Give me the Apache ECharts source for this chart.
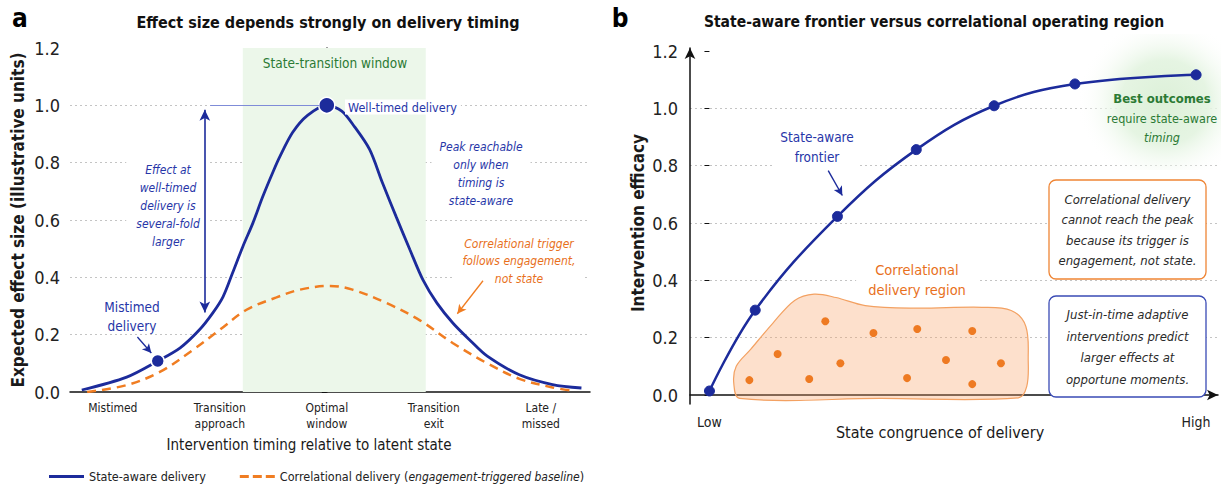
<!DOCTYPE html>
<html>
<head>
<meta charset="utf-8">
<script src="https://cdn.jsdelivr.net/npm/echarts/dist/echarts.min.js"></script>
<style>
  html, body { margin: 0; padding: 0; background: #fff; }
  #main { width: 1221px; height: 485px; }
</style>
</head>
<body>
<div id="main"></div>
<script>
// panel a: timing categories on a continuous timing axis
const timingTicks = [-2, -1, 0, 1, 2]
const timingLabels = ['Mistimed', 'Transition\napproach', 'Optimal\nwindow', 'Transition\nexit', 'Late /\nmissed']
const windowRange = [-0.785, 0.925]

const stateAware = [
  [-2.29, 0.007], [-1.87, 0.052], [-1.58, 0.108], [-1.37, 0.154], [-1.19, 0.217],
  [-1.065, 0.276], [-0.97, 0.332], [-0.88, 0.416], [-0.785, 0.507], [-0.69, 0.59],
  [-0.6, 0.68], [-0.5, 0.77], [-0.44, 0.82], [-0.32, 0.905], [-0.18, 0.965],
  [0, 1.0], [0.14, 0.98], [0.26, 0.925], [0.4, 0.846], [0.52, 0.73],
  [0.65, 0.61], [0.776, 0.497], [0.9, 0.39], [1.03, 0.31], [1.18, 0.24],
  [1.34, 0.18], [1.5, 0.125], [1.8, 0.06], [2.11, 0.026], [2.38, 0.014]
]
const correlational = [
  [-2.24, 0.0], [-1.87, 0.024], [-1.56, 0.07], [-1.25, 0.147], [-1.0, 0.217],
  [-0.75, 0.287], [-0.47, 0.33], [-0.25, 0.357], [0.03, 0.37], [0.24, 0.357],
  [0.56, 0.31], [0.87, 0.25], [1.18, 0.17], [1.5, 0.1], [1.8, 0.046],
  [2.11, 0.016], [2.32, 0.003]
]
const highlightPts = [[0, 1.0], [-1.58, 0.108]]

// panel b: frontier and correlational cloud
const frontierX = [0, 0.94, 2.63, 4.25, 5.85, 7.51, 10.0]
const frontierY = [0.014, 0.296, 0.623, 0.856, 1.009, 1.085, 1.117]
const corrX = [0.82, 1.4, 2.05, 2.38, 2.69, 3.37, 4.06, 4.27, 4.86, 5.4, 5.4, 5.99]
const corrY = [0.052, 0.143, 0.056, 0.257, 0.111, 0.216, 0.059, 0.23, 0.122, 0.223, 0.038, 0.111]
const blobX = [0.62, 0.5, 0.55, 0.85, 1.3, 1.75, 2.15, 2.6, 3.2, 4.2, 5.6, 6.2, 6.5, 6.55, 6.52, 6.35, 3.5]
const blobY = [-0.012, 0.04, 0.1, 0.16, 0.25, 0.33, 0.352, 0.34, 0.312, 0.303, 0.306, 0.295, 0.24, 0.12, 0.03, -0.01, -0.012]

const FONT = '"DejaVu Sans Condensed", Roboto, sans-serif'
const BLUE = '#1c2b9b'
const BLUE_TXT = '#2736a8'
const ORANGE = '#f07d22'
const ORANGE_TXT = '#e8701c'
const GREEN = '#2b7a34'
const INK = '#1a1a1a'

function txt (x, y, text, style, z) {
  return {
    type: 'text', x: x, y: y, z: z || 5, silent: true,
    style: Object.assign({
      text: text, fontFamily: FONT, fontSize: 14, fill: INK,
      align: 'center', verticalAlign: 'middle'
    }, style)
  }
}

const chart = echarts.init(document.getElementById('main'), null, { renderer: 'svg' })

const gridLine = { show: true, lineStyle: { type: [2, 3], color: '#c4c4c4', width: 1 } }

const option = {
  animation: false,
  backgroundColor: '#fff',
  textStyle: { fontFamily: FONT },
  grid: [
    { left: 70, width: 520, top: 48, height: 344, outerBoundsMode: 'none' },
    { left: 690, width: 528, top: 51, height: 344, outerBoundsMode: 'none' },
    { left: 690, width: 528, top: 48, height: 356, outerBoundsMode: 'none' }
  ],
  xAxis: [
    {
      gridIndex: 0, type: 'value', min: -2.4, max: 2.46,
      axisLine: { show: true, lineStyle: { color: '#111', width: 1.5 } },
      axisTick: { show: false },
      splitLine: { show: false },
      axisLabel: {
        customValues: timingTicks, margin: 8, fontSize: 12, lineHeight: 16, color: '#222', fontFamily: FONT,
        formatter: v => timingLabels[timingTicks.indexOf(v)] || ''
      },
      name: 'Intervention timing relative to latent state', nameLocation: 'middle', nameGap: 45,
      nameTextStyle: { fontSize: 15, color: INK, fontFamily: FONT, padding: [0, 42, 0, 0] }
    },
    {
      gridIndex: 1, type: 'value', min: -0.4, max: 10.45, offset: 9,
      axisLine: { show: true, symbol: ['none', 'arrow'], symbolSize: [8, 11], lineStyle: { color: '#111', width: 1.5 } },
      axisTick: { show: false },
      splitLine: { show: false },
      axisLabel: {
        customValues: [0, 10], margin: 11, fontSize: 14, color: '#222', fontFamily: FONT,
        formatter: v => (v === 0 ? 'Low' : 'High')
      },
      name: 'State congruence of delivery', nameLocation: 'middle', nameGap: 20, nameMoveOverlap: false,
      nameTextStyle: { fontSize: 16, color: INK, fontFamily: FONT, padding: [0, 28, 0, 0] }
    },
    { gridIndex: 2, type: 'value', min: 0, max: 1, show: false }
  ],
  yAxis: [
    {
      gridIndex: 0, type: 'value', min: 0, max: 1.2, interval: 0.2,
      axisLine: { show: true, lineStyle: { color: '#111', width: 1.5 } },
      axisTick: { show: true, length: 5, lineStyle: { color: '#111' } },
      axisLabel: { fontSize: 18, color: '#222', margin: 10, fontFamily: FONT, formatter: v => v.toFixed(1) },
      splitLine: Object.assign({ showMaxLine: false, showMinLine: false }, gridLine),
      name: 'Expected effect size (illustrative units)', nameLocation: 'middle', nameGap: 44,
      nameTextStyle: { fontSize: 17, fontWeight: 'bold', color: INK, fontFamily: FONT }
    },
    {
      gridIndex: 1, type: 'value', min: 0, max: 1.2, interval: 0.2,
      axisLine: { show: false },
      axisTick: { show: true, length: 5, lineStyle: { color: '#111' } },
      axisLabel: { fontSize: 18, color: '#222', margin: 12, fontFamily: FONT, formatter: v => v.toFixed(1) },
      splitLine: Object.assign({ showMaxLine: false, showMinLine: false }, gridLine),
      name: 'Intervention efficacy', nameLocation: 'middle', nameGap: 44,
      nameTextStyle: { fontSize: 17, fontWeight: 'bold', color: INK, fontFamily: FONT }
    },
    {
      gridIndex: 2, type: 'value', min: 0, max: 1,
      axisLine: { show: true, symbol: ['none', 'arrow'], symbolSize: [8, 11], lineStyle: { color: '#111', width: 1.5 } },
      axisTick: { show: false }, axisLabel: { show: false }, splitLine: { show: false }
    }
  ],
  legend: {
    left: 44, top: 465, itemWidth: 35, itemHeight: 3, itemGap: 34, selectedMode: false,
    data: [
      { name: 'State-aware delivery', icon: 'rect' },
      { name: 'Correlational delivery', icon: 'path://M0,0h9v3h-9z M13,0h9v3h-9z M26,0h9v3h-9z' }
    ],
    textStyle: { fontSize: 12.5, color: '#222', fontFamily: FONT, rich: { i: { fontStyle: 'italic', fontSize: 12, color: '#222', fontFamily: FONT } } },
    formatter: name => (name === 'Correlational delivery' ? name + ' ({i|engagement-triggered baseline})' : name)
  },
  series: [
    {
      // state-transition window band
      type: 'line', xAxisIndex: 0, yAxisIndex: 0, z: 1, silent: true,
      data: [[0, 0]], symbol: 'none', lineStyle: { opacity: 0 },
      markArea: {
        silent: true,
        itemStyle: { color: '#ecf7ea' },
        data: [[{ xAxis: windowRange[0], yAxis: 0 }, { xAxis: windowRange[1], yAxis: 1.2 }]]
      }
    },
    {
      name: 'State-aware delivery', type: 'line', xAxisIndex: 0, yAxisIndex: 0, z: 3,
      data: stateAware, smooth: 0.3, symbol: 'none',
      lineStyle: { color: BLUE, width: 2.8 }, itemStyle: { color: BLUE },
      markLine: {
        silent: true, symbol: ['none', 'arrow'], symbolSize: [8, 11], label: { show: false },
        lineStyle: { color: BLUE, width: 1.6, type: 'solid' },
        data: [
          [{ coord: [-1.14, 0.985], symbol: 'arrow' }, { coord: [-1.14, 0.277], symbol: 'arrow' }],
          [{ coord: [-1.09, 1.0], symbol: 'none', lineStyle: { color: '#7f8cd8', width: 1 } }, { coord: [-0.07, 1.0], symbol: 'none' }],
          [{ coord: [-1.77, 0.192], lineStyle: { width: 1.3 } }, { coord: [-1.64, 0.136], symbolSize: [7, 9] }]
        ]
      }
    },
    {
      name: 'Correlational delivery', type: 'line', xAxisIndex: 0, yAxisIndex: 0, z: 2,
      data: correlational, smooth: 0.35, symbol: 'none',
      lineStyle: { color: ORANGE, width: 2.5, type: [9, 6] }, itemStyle: { color: ORANGE },
      markLine: {
        silent: true, symbol: ['none', 'arrow'], symbolSize: [7, 9], label: { show: false },
        lineStyle: { color: ORANGE, width: 1.3, type: 'solid' },
        data: [[{ coord: [1.46, 0.388] }, { coord: [1.22, 0.273] }]]
      }
    },
    {
      type: 'scatter', xAxisIndex: 0, yAxisIndex: 0, z: 4,
      data: [
        { value: highlightPts[0], symbolSize: 16 },
        { value: highlightPts[1], symbolSize: 13 }
      ],
      itemStyle: { color: BLUE, borderColor: '#fff', borderWidth: 1.5, opacity: 1 }
    },
    {
      type: 'custom', xAxisIndex: 1, yAxisIndex: 1, z: 1, silent: true,
      data: [[blobX[0], blobY[0]]],
      renderItem: function (params, api) {
        const pts = blobX.map((x, i) => api.coord([x, blobY[i]]))
        return {
          type: 'polygon',
          shape: { points: pts, smooth: 0.35 },
          style: { fill: 'rgba(248,160,100,0.33)', stroke: '#f3a162', lineWidth: 1.2 }
        }
      }
    },
    {
      type: 'scatter', xAxisIndex: 1, yAxisIndex: 1, z: 3,
      data: corrX.map((x, i) => [x, corrY[i]]), symbolSize: 8,
      itemStyle: { color: '#ee7a22', opacity: 1 }
    },
    {
      type: 'line', xAxisIndex: 1, yAxisIndex: 1, z: 3,
      data: frontierX.map((x, i) => [x, frontierY[i]]), smooth: 0.4,
      symbol: 'circle', symbolSize: 10, showSymbol: true,
      lineStyle: { color: BLUE, width: 2.5 }, itemStyle: { color: BLUE, borderColor: BLUE },
      markLine: {
        silent: true, symbol: ['none', 'arrow'], symbolSize: [7, 9], label: { show: false },
        lineStyle: { color: BLUE, width: 1.4, type: 'solid' },
        data: [[{ coord: [2.44, 0.783] }, { coord: [2.73, 0.696] }]]
      }
    }
  ],
  graphic: [
    // soft green glow behind "Best outcomes"
    {
      type: 'rect', z: 1, silent: true,
      shape: { x: 1080, y: 34, width: 141, height: 136 },
      style: {
        fill: {
          type: 'radial', x: 0.6, y: 0.5, r: 0.62,
          colorStops: [
            { offset: 0, color: 'rgba(220,240,216,1)' },
            { offset: 0.5, color: 'rgba(228,244,225,0.95)' },
            { offset: 1, color: 'rgba(255,255,255,0)' }
          ]
        }
      }
    },
    txt(20, 18, 'a', { fontSize: 26, fontWeight: 'bold', fill: '#000' }),
    txt(328, 22, 'Effect size depends strongly on delivery timing', { fontSize: 16, fontWeight: 'bold', fill: '#111' }),
    txt(620, 18, 'b', { fontSize: 26, fontWeight: 'bold', fill: '#000' }),
    txt(934, 22, 'State-aware frontier versus correlational operating region', { fontSize: 15.5, fontWeight: 'bold', fill: '#111' }),

    txt(335, 63, 'State-transition window', { fontSize: 13.5, fill: GREEN }),
    txt(345, 107, 'Well-timed delivery', { fontSize: 12.5, fill: BLUE_TXT, align: 'left', backgroundColor: '#fff', padding: [1, 4, 1, 3] }),
    txt(168, 206, 'Effect at\nwell-timed\ndelivery is\nseveral-fold\nlarger', { fontSize: 12, fontStyle: 'italic', fill: BLUE_TXT, lineHeight: 18, backgroundColor: '#fff', padding: [0, 10] }),
    txt(132, 316, 'Mistimed\ndelivery', { fontSize: 13.5, fill: BLUE_TXT, lineHeight: 19 }),
    txt(481, 174, 'Peak reachable\nonly when\ntiming is\nstate-aware', { fontSize: 12, fontStyle: 'italic', fill: BLUE_TXT, lineHeight: 17.7, backgroundColor: '#fff', padding: [0, 8] }),
    txt(519, 261, 'Correlational trigger\nfollows engagement,\nnot state', { fontSize: 12, fontStyle: 'italic', fill: ORANGE_TXT, lineHeight: 17.5, backgroundColor: '#fff', padding: [0, 8] }),

    txt(817, 147, 'State-aware\nfrontier', { fontSize: 13.5, fill: BLUE_TXT, lineHeight: 19.5, backgroundColor: '#fff', padding: [0, 6] }),
    txt(1162, 118, '{b|Best outcomes}\n{r|require state-aware}\n{i|timing}', {
      fill: GREEN,
      rich: {
        b: { fontSize: 13, fontWeight: 'bold', fill: GREEN, fontFamily: FONT, lineHeight: 19.5 },
        r: { fontSize: 12.5, fill: GREEN, fontFamily: FONT, lineHeight: 19.5 },
        i: { fontSize: 12.5, fontStyle: 'italic', fill: GREEN, fontFamily: FONT, lineHeight: 19.5 }
      }
    }),
    txt(917, 280, 'Correlational\ndelivery region', { fontSize: 14.5, fill: ORANGE_TXT, lineHeight: 20, backgroundColor: '#fff', padding: [0, 12] }),

    {
      type: 'rect', z: 4, silent: true,
      shape: { x: 1049, y: 180, width: 157, height: 99, r: 7 },
      style: { fill: '#fff', stroke: '#ef8535', lineWidth: 1.3 }
    },
    txt(1127.5, 230, 'Correlational delivery\ncannot reach the peak\nbecause its trigger is\nengagement, not state.', { fontSize: 13, fontStyle: 'italic', fill: '#2a2a2a', lineHeight: 20.5 }),
    {
      type: 'rect', z: 4, silent: true,
      shape: { x: 1049, y: 296, width: 157, height: 101, r: 7 },
      style: { fill: '#fff', stroke: '#3a4bb5', lineWidth: 1.3 }
    },
    txt(1127.5, 347, 'Just-in-time adaptive\ninterventions predict\nlarger effects at\nopportune moments.', { fontSize: 13, fontStyle: 'italic', fill: '#2a2a2a', lineHeight: 21.5 })
  ]
}

chart.setOption(option)
</script>
</body>
</html>
